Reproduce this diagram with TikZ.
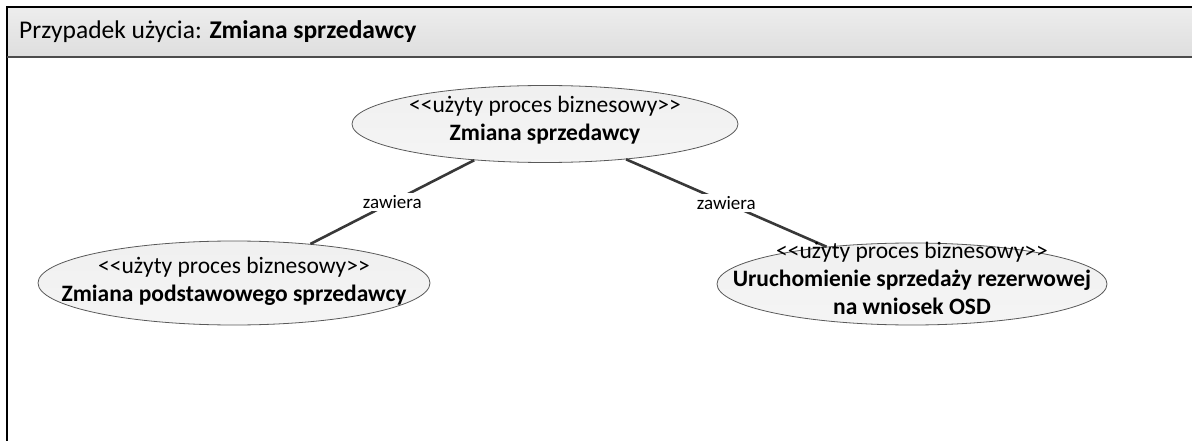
\documentclass[tikz,border=0pt]{standalone}
\usepackage{fontspec}
\setmainfont{Carlito}
\usetikzlibrary{shapes.geometric}
\newcommand\stereo[1]{<\kern0pt<#1>\kern0pt>}
\begin{document}
\begin{tikzpicture}[x=1pt,y=-1pt,
  uc/.style={ellipse, draw=black!65, line width=0.8pt, inner sep=0pt,
    top color=black!6, bottom color=black!4},
  uctext/.style={align=center, font=\fontsize{23.5}{28}\selectfont, inner sep=0pt},
  conn/.style={draw=black!78, line width=2.6pt},
  lbl/.style={fill=white, font=\fontsize{19}{21}\selectfont, inner sep=2pt}
]
\useasboundingbox (0,0) rectangle (1192,441);
% frame header
\path[top color=black!7, bottom color=black!13] (7,7) rectangle (1192,57);
\draw[black, line width=2pt] (7,441) -- (7,7) -- (1192,7);
\draw[black!70, line width=2pt] (7,57) -- (1192,57);
\node[anchor=west, inner sep=0pt, font=\fontsize{25.5}{30}\selectfont] (hdr) at (19,32)
  {Przypadek użycia: \textbf{Zmiana sprzedawcy}};
% use cases
\node[uc, minimum width=386pt, minimum height=77pt] (top) at (545,124) {};
\node[uc, minimum width=392pt, minimum height=84pt] (left) at (234,283) {};
\node[uc, minimum width=390pt, minimum height=82pt] (right) at (912,284) {};
% connectors
\draw[conn] (top) -- node[lbl] (l1) {zawiera} (left);
\draw[conn] (top) -- node[lbl] (l2) {zawiera} (right);
% texts
\node[uctext] (ttop) at (545,120) {\stereo{użyty proces biznesowy}\\\textbf{Zmiana sprzedawcy}};
\node[uctext] (tleft) at (234,281) {\stereo{użyty proces biznesowy}\\\textbf{Zmiana podstawowego sprzedawcy}};
\node[uctext] (tright) at (912,278) {\stereo{użyty proces biznesowy}\\\textbf{Uruchomienie sprzedaży rezerwowej}\\\textbf{na wniosek OSD}};
\end{tikzpicture}
\end{document}
